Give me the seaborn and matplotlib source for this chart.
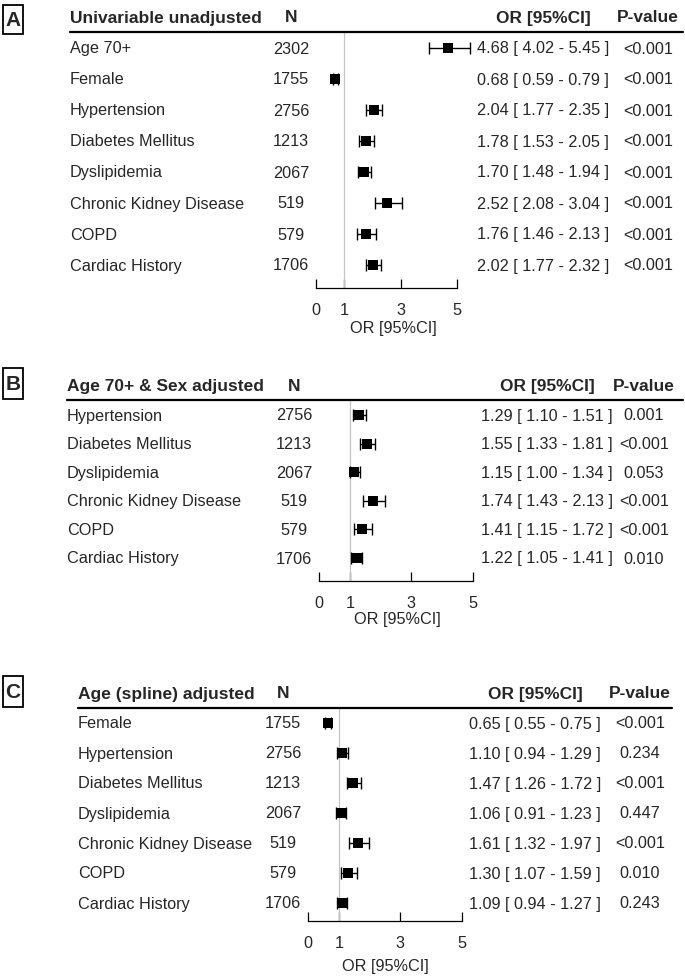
import matplotlib
matplotlib.use("Agg")
import matplotlib.pyplot as plt
import matplotlib.transforms as mtransforms
from matplotlib.lines import Line2D
from matplotlib.patches import Rectangle
import pandas as pd
import seaborn as sns

W, H = 685, 978

# Panel A - univariable unadjusted
a_labels = ["Age 70+", "Female", "Hypertension", "Diabetes Mellitus", "Dyslipidemia",
            "Chronic Kidney Disease", "COPD", "Cardiac History"]
a_n = [2302, 1755, 2756, 1213, 2067, 519, 579, 1706]
a_or = [4.68, 0.68, 2.04, 1.78, 1.70, 2.52, 1.76, 2.02]
a_lo = [4.02, 0.59, 1.77, 1.53, 1.48, 2.08, 1.46, 1.77]
a_hi = [5.45, 0.79, 2.35, 2.05, 1.94, 3.04, 2.13, 2.32]
a_p = ["<0.001"] * 8

# Panel B - age 70+ & sex adjusted
b_labels = ["Hypertension", "Diabetes Mellitus", "Dyslipidemia",
            "Chronic Kidney Disease", "COPD", "Cardiac History"]
b_n = [2756, 1213, 2067, 519, 579, 1706]
b_or = [1.29, 1.55, 1.15, 1.74, 1.41, 1.22]
b_lo = [1.10, 1.33, 1.00, 1.43, 1.15, 1.05]
b_hi = [1.51, 1.81, 1.34, 2.13, 1.72, 1.41]
b_p = ["0.001", "<0.001", "0.053", "<0.001", "<0.001", "0.010"]

# Panel C - age (spline) adjusted
c_labels = ["Female", "Hypertension", "Diabetes Mellitus", "Dyslipidemia",
            "Chronic Kidney Disease", "COPD", "Cardiac History"]
c_n = [1755, 2756, 1213, 2067, 519, 579, 1706]
c_or = [0.65, 1.10, 1.47, 1.06, 1.61, 1.30, 1.09]
c_lo = [0.55, 0.94, 1.26, 0.91, 1.32, 1.07, 0.94]
c_hi = [0.75, 1.29, 1.72, 1.23, 1.97, 1.59, 1.27]
c_p = ["<0.001", "0.234", "<0.001", "0.447", "<0.001", "0.010", "0.243"]

ticks = [0, 1, 3, 5]

sns.set_style("white")
plt.rcParams["font.family"] = ["Liberation Sans", "DejaVu Sans"]

FS = 11.7
FSB = 12.5

fig = plt.figure(figsize=(W / 100, H / 100), dpi=100)


def fx(x):
    return x / W


def fy(y):
    return 1 - y / H


def make_df(labels, n, orr, lo, hi, p):
    df = pd.DataFrame({"label": labels, "n": n, "or": orr, "lo": lo, "hi": hi, "p": p})
    df["row"] = range(len(df))
    df["est"] = [f"{o:.2f} [ {l:.2f} - {h:.2f} ]" for o, l, h in zip(df["or"], df["lo"], df["hi"])]
    return df


# layout in pixels
panels = [
    dict(df=make_df(a_labels, a_n, a_or, a_lo, a_hi, a_p), letter="A",
         title="Univariable unadjusted", x0=316, x5=457, top=33, bottom=289,
         first=49, step=31, lab_x=70, n_x=291, est_x=543, p_x=648, right=683,
         head_y=18, xlab=(393, 329), box=(6, 35)),
    dict(df=make_df(b_labels, b_n, b_or, b_lo, b_hi, b_p), letter="B",
         title="Age 70+ & Sex adjusted", x0=319, x5=473, top=401, bottom=582,
         first=416, step=28.6, lab_x=67, n_x=294, est_x=547, p_x=644, right=683,
         head_y=387, xlab=(397, 620), box=(369, 400)),
    dict(df=make_df(c_labels, c_n, c_or, c_lo, c_hi, c_p), letter="C",
         title="Age (spline) adjusted", x0=308, x5=462, top=709, bottom=922,
         first=724, step=30, lab_x=78, n_x=283, est_x=535, p_x=640, right=672,
         head_y=694, xlab=(385, 967), box=(677, 708)),
]

for pn in panels:
    df = pn["df"]
    ax = fig.add_axes([fx(pn["x0"]), fy(pn["bottom"]),
                       (pn["x5"] - pn["x0"]) / W, (pn["bottom"] - pn["top"]) / H])
    ax.set_facecolor("none")

    # reference line at OR = 1
    ax.axvline(1, color="#c4c4c4", lw=0.9, zorder=1)

    eb = ax.errorbar(df["or"], df["row"], xerr=[df["or"] - df["lo"], df["hi"] - df["or"]],
                     fmt="none", ecolor="black", elinewidth=1.0, capsize=4.5, capthick=1.0, zorder=2)
    for child in eb.get_children():
        child.set_clip_on(False)
    sns.scatterplot(data=df, x="or", y="row", marker="s", s=48, color="black",
                    edgecolor="black", linewidth=0, ax=ax, zorder=3, legend=False, clip_on=False)

    ax.set_xlim(0, 5)
    ax.set_ylim((pn["bottom"] - pn["first"]) / pn["step"], (pn["top"] - pn["first"]) / pn["step"])
    ax.set_xticks(ticks)
    ax.set_xticklabels([str(t) for t in ticks])
    ax.set_yticks([])
    ax.set_xlabel("")
    ax.set_ylabel("")
    for side in ["top", "left", "right"]:
        ax.spines[side].set_visible(False)
    ax.spines["bottom"].set_color("black")
    ax.spines["bottom"].set_linewidth(0.9)
    ax.tick_params(axis="x", direction="in", length=6.5, width=0.9, color="black",
                   labelsize=FS, pad=10, bottom=True)

    # table text, x in figure space and y in row space
    trans = mtransforms.blended_transform_factory(fig.transFigure, ax.transData)
    for _, r in df.iterrows():
        ax.text(fx(pn["lab_x"]), r["row"], r["label"], transform=trans,
                ha="left", va="center", fontsize=FS)
        ax.text(fx(pn["n_x"]), r["row"], str(r["n"]), transform=trans,
                ha="center", va="center", fontsize=FS)
        ax.text(fx(pn["est_x"]), r["row"], r["est"], transform=trans,
                ha="center", va="center", fontsize=FS)
        ax.text(fx(pn["p_x"]), r["row"], r["p"], transform=trans,
                ha="center", va="center", fontsize=FS)

    # header row
    fig.text(fx(pn["lab_x"]), fy(pn["head_y"]), pn["title"], ha="left", va="center",
             fontsize=FSB, fontweight="bold")
    fig.text(fx(pn["n_x"]), fy(pn["head_y"]), "N", ha="center", va="center",
             fontsize=FSB, fontweight="bold")
    fig.text(fx(pn["est_x"]), fy(pn["head_y"]), "OR [95%CI]", ha="center", va="center",
             fontsize=FSB, fontweight="bold")
    fig.text(fx(pn["p_x"]), fy(pn["head_y"]), "P-value", ha="center", va="center",
             fontsize=FSB, fontweight="bold")
    fig.add_artist(Line2D([fx(pn["lab_x"]), fx(pn["right"])], [fy(pn["top"]), fy(pn["top"])],
                          color="black", lw=1.6))

    fig.text(fx(pn["xlab"][0]), fy(pn["xlab"][1]), "OR [95%CI]", ha="center", va="center",
             fontsize=FS)

    # panel letter in a box
    y1, y2 = pn["box"]
    fig.add_artist(Rectangle((fx(3), fy(y2)), 20 / W, (y2 - y1) / H, transform=fig.transFigure,
                             fill=False, ec="black", lw=1.3))
    fig.text(fx(13), fy((y1 + y2) / 2), pn["letter"], ha="center", va="center",
             fontsize=15, fontweight="bold")

fig.savefig("out.png", dpi=100)
